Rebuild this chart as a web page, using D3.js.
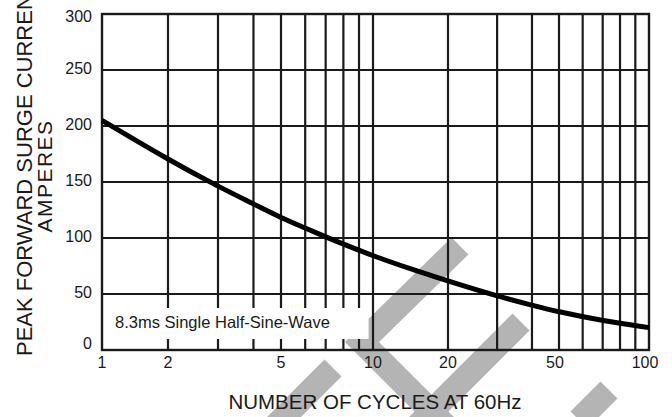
<!DOCTYPE html>
<html>
<head>
<meta charset="utf-8">
<script src="https://cdn.jsdelivr.net/npm/d3@7"></script>
<style>
  body { margin: 0; background: #fff; }
  text { font-family: "Liberation Sans", Arial, sans-serif; fill: #1a1a1a; }
</style>
</head>
<body>
<div class="surge-graph"></div>
<script>
// surge current vs number of cycles (log x)
var w = 672, h = 417;

var cycles = [1, 2, 3, 4, 5, 6, 7, 8, 10, 15, 20, 30, 40, 50, 70, 100];
var amps = [205, 170, 146, 130.5, 118, 109, 101, 94.5, 84, 70.5, 61.5, 48, 40, 34, 26, 20];

var xGrid = [2, 3, 4, 5, 6, 7, 8, 9, 10, 20, 30, 40, 50, 60, 70, 80, 90];
var xTickLabels = [1, 2, 5, 10, 20, 50, 100];
var yTickLabels = [0, 50, 100, 150, 200, 250, 300];
var noteText = "8.3ms Single Half-Sine-Wave";

// plot box (note: "top" is taken by window, so px*)
var pxL = 102, pxR = 649, pxT = 14, pxB = 350;

// the printed log axis is not quite even, so pin it at the labelled decades
var x = d3.scaleLog()
    .domain([1, 2, 5, 10, 20, 50, 100])
    .range([pxL, 168, 281, 373, 448, 559, pxR]);
var y = d3.scaleLinear().domain([0, 300]).range([pxB, pxT]);

var svg = d3.select(".surge-graph")
    .append("svg")
    .attr("width", w)
    .attr("height", h);

// grey watermark bands behind the chart
var band = svg.append("g")
    .attr("fill", "none")
    .attr("stroke", "#b4b4b4")
    .attr("stroke-width", 24)
    .attr("stroke-linejoin", "miter");
band.append("path").attr("d", "M460,246L362,342L462,442");
band.append("path").attr("d", "M521,322L411,432");
band.append("path").attr("d", "M333,368L273,428");
band.append("path").attr("d", "M609,390L579,420");

// grid
svg.selectAll(".vgrid")
    .data(xGrid)
    .enter()
    .append("line")
    .attr("class", "vgrid")
    .attr("x1", function(d) { return x(d); })
    .attr("x2", function(d) { return x(d); })
    .attr("y1", pxT)
    .attr("y2", pxB)
    .attr("stroke", "#1a1a1a")
    .attr("stroke-width", 2.2);

svg.selectAll(".hgrid")
    .data(yTickLabels.slice(1, -1))
    .enter()
    .append("line")
    .attr("class", "hgrid")
    .attr("x1", pxL)
    .attr("x2", pxR)
    .attr("y1", function(d) { return y(d); })
    .attr("y2", function(d) { return y(d); })
    .attr("stroke", "#1a1a1a")
    .attr("stroke-width", 2.2);

// note box
svg.append("rect")
    .attr("x", x(1) + 1)
    .attr("y", y(0) - 42)
    .attr("width", x(9.6) - x(1))
    .attr("height", 31)
    .attr("fill", "#fff");

svg.append("text")
    .attr("x", x(1) + 13)
    .attr("y", y(0) - 22.5)
    .style("font-size", "16.5px")
    .text(noteText);

svg.append("rect")
    .attr("x", pxL)
    .attr("y", pxT)
    .attr("width", pxR - pxL)
    .attr("height", pxB - pxT)
    .attr("fill", "none")
    .attr("stroke", "#1a1a1a")
    .attr("stroke-width", 2.4);

// curve
var line = d3.line()
    .x(function(d, i) { return x(cycles[i]); })
    .y(function(d) { return y(d); })
    .curve(d3.curveBasis);

svg.append("path")
    .attr("d", line(amps))
    .attr("fill", "none")
    .attr("stroke", "#000")
    .attr("stroke-width", 5);

// tick labels
svg.selectAll(".ylab")
    .data(yTickLabels)
    .enter()
    .append("text")
    .attr("class", "ylab")
    .attr("x", pxL - 10)
    .attr("y", function(d) { return y(d) + (d == 0 ? -1 : d == 300 ? 8 : 4); })
    .style("text-anchor", "end")
    .style("font-size", "16px")
    .text(function(d) { return d; });

svg.selectAll(".xlab")
    .data(xTickLabels)
    .enter()
    .append("text")
    .attr("class", "xlab")
    .attr("x", function(d) { return x(d) - (d >= 50 ? 4 : 0); })
    .attr("y", pxB + 18)
    .style("text-anchor", "middle")
    .style("font-size", "16px")
    .text(function(d) { return d; });

// axis titles
svg.append("text")
    .attr("x", 375)
    .attr("y", 409)
    .style("text-anchor", "middle")
    .style("font-size", "20.5px")
    .text("NUMBER OF CYCLES AT 60Hz");

// runs off the top edge, same as the source scan
svg.append("text")
    .attr("transform", "translate(32,356) rotate(-90)")
    .style("text-anchor", "start")
    .style("font-size", "22px")
    .text("PEAK FORWARD SURGE CURRENT");

svg.append("text")
    .attr("transform", "translate(52,176) rotate(-90)")
    .style("text-anchor", "middle")
    .style("font-size", "21px")
    .style("letter-spacing", "1.5px")
    .text("AMPERES");
</script>
</body>
</html>
